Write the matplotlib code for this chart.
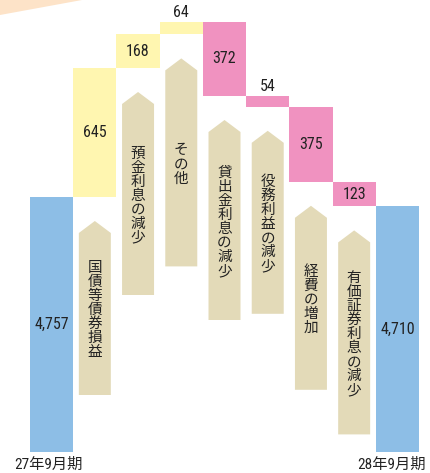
import matplotlib
matplotlib.use("Agg")
import matplotlib.pyplot as plt
from matplotlib.patches import Polygon
from matplotlib import font_manager as fm
import numpy as np

# ---- data ----
categories = ['27年9月期', '国債等債券損益', '預金利息の減少', 'その他',
              '貸出金利息の減少', '役務利益の減少', '経費の増加',
              '有価証券利息の減少', '28年9月期']
start_value = 4757
end_value = 4710
changes = [645, 168, 64, -372, -54, -375, -123]
value_labels = ['4,757', '645', '168', '64', '372', '54', '375', '123', '4,710']

# ---- style / layout ----
BLUE = '#8dbee6'
YELLOW = '#fff6b0'
PINK = '#f092c0'
TAN = '#e3dab8'
PEACH = '#fde3c8'
TXT = '#222222'

# look for a narrow / condensed latin font
narrow_name, narrow_stretch = None, 'normal'
prefs = ['Liberation Sans Narrow', 'Roboto Condensed', 'Open Sans Condensed',
         'Noto Sans Condensed', 'DejaVu Sans Condensed']
flist = fm.fontManager.ttflist
for p in prefs:
    hits = [f for f in flist if f.name == p and f.style == 'normal']
    if hits:
        narrow_name, narrow_stretch = p, hits[0].stretch
        break
if narrow_name is None:
    for f in flist:
        st = str(f.stretch)
        if (st in ('condensed', 'semi-condensed', 'extra-condensed') or
                (st.isdigit() and int(st) < 500)) and f.style == 'normal' \
                and f.name in ('Noto Sans', 'Roboto', 'Open Sans', 'DejaVu Sans', 'Lato', 'Inter'):
            narrow_name, narrow_stretch = f.name, f.stretch
            break
if narrow_name is None:
    narrow_name, narrow_stretch = 'Liberation Sans', 'normal'

NUM_FONT = [narrow_name, 'DejaVu Sans']
CJK_FONT = ['Noto Sans CJK JP', 'DejaVu Sans']
MIX_FONT = [narrow_name, 'Noto Sans CJK JP', 'DejaVu Sans']

W, H = 430, 473
px_per_unit = 0.2
ax_bottom_px = 21
y_min = start_value - 255 / px_per_unit
y_max = y_min + (H - ax_bottom_px) / px_per_unit

arrow_gap = 24 / px_per_unit        # gap between bar bottom and arrow tip
arrow_head = 12 / px_per_unit       # height of the arrow head
arrow_len_px = [174, 203, 208, 200, 183, 184, 204]
arrow_w = 0.74

fig = plt.figure(figsize=(W / 100, H / 100), dpi=100)
fig.patch.set_facecolor('white')

# decorative wedge top-left
fig.patches.append(Polygon([(0, 1), (82 / W, 1), (0, 1 - 15 / H)], closed=True,
                           transform=fig.transFigure, facecolor=PEACH,
                           edgecolor='none', zorder=0))

ax = fig.add_axes([30 / W, ax_bottom_px / H, 389 / W, 1 - ax_bottom_px / H])
ax.set_xlim(-0.5, len(categories) - 0.5)
ax.set_ylim(y_min, y_max)
for s in ax.spines.values():
    s.set_visible(False)
ax.set_yticks([])
ax.patch.set_alpha(0)

# compute waterfall
bottoms, heights, colors = [], [], []
bottoms.append(y_min); heights.append(start_value - y_min); colors.append(BLUE)
level = start_value
for c in changes:
    if c >= 0:
        bottoms.append(level); heights.append(c); colors.append(YELLOW)
    else:
        bottoms.append(level + c); heights.append(-c); colors.append(PINK)
    level += c
bottoms.append(y_min); heights.append(end_value - y_min); colors.append(BLUE)

x = np.arange(len(categories))
ax.bar(x, heights, bottom=bottoms, width=1.0, color=colors, edgecolor='none', zorder=2)

# value labels
for i, (b, h, lab) in enumerate(zip(bottoms, heights, value_labels)):
    if h * px_per_unit < 20:
        ax.text(x[i], b + h + 2 / px_per_unit, lab, ha='center', va='bottom',
                fontsize=11.5, family=NUM_FONT, stretch=narrow_stretch, color=TXT, zorder=4)
    else:
        ax.text(x[i], b + h / 2, lab, ha='center', va='center',
                fontsize=11.5, family=NUM_FONT, stretch=narrow_stretch, color=TXT, zorder=4)

# arrows with vertical labels
for k, c in enumerate(changes):
    i = k + 1
    tip = bottoms[i] - arrow_gap
    bot = tip - arrow_len_px[k] / px_per_unit
    sh = tip - arrow_head
    xl, xr = x[i] - arrow_w / 2, x[i] + arrow_w / 2
    ax.add_patch(Polygon([(xl, bot), (xl, sh), (x[i], tip), (xr, sh), (xr, bot)],
                         closed=True, facecolor=TAN, edgecolor='none', zorder=1))
    vtxt = '\n'.join(list(categories[i]))
    ax.text(x[i], (tip + bot) / 2 - 2 / px_per_unit, vtxt, ha='center', va='center',
            fontsize=10.5, family=CJK_FONT, color=TXT, linespacing=1.0, zorder=3)

# category labels under the end bars
for i, dx in ((0, -2), (len(categories) - 1, -4)):
    ax.annotate(categories[i], xy=(x[i], y_min), xytext=(dx, -4),
                textcoords='offset points', ha='center', va='top',
                fontsize=11, family=MIX_FONT, stretch=narrow_stretch, color=TXT,
                annotation_clip=False)
ax.set_xticks([])

fig.savefig('out.png', dpi=100, facecolor='white')
